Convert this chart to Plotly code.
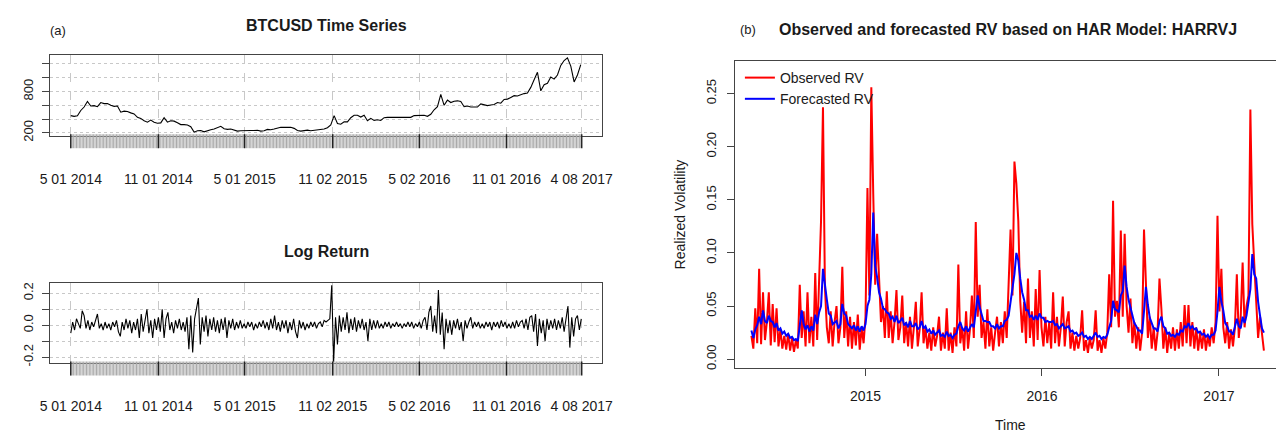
import pandas as pd
import plotly.graph_objects as go

W, H = 1287, 437

# ---------------- data ----------------
price_start = "2014-05-01"
btc_price = [
    450, 440, 447, 525, 575, 655, 590, 595, 580, 640,
    625, 625, 600, 585, 590, 500, 515, 510, 490, 475,
    425, 410, 375, 355, 385, 355, 340, 345, 420, 355,
    375, 370, 345, 320, 320,
    315, 290, 210, 230, 235, 215, 235, 245, 255, 275,
    295, 260, 250, 255, 240, 225, 230, 235, 240, 235,
    235, 237, 225, 230, 250, 245, 255, 270, 280, 280,
    285, 280, 265, 235, 225, 230, 240, 230, 235, 238,
    245, 255, 275, 315, 450, 335, 325, 360, 360, 420,
    455, 455, 430,
    455, 375, 410, 380, 390, 380, 420, 425, 425, 415,
    415, 415, 415, 420, 425, 450, 450, 450, 455, 440,
    470, 535, 580, 760, 600, 675, 640, 660, 665, 655,
    580, 590, 575, 575, 575, 620, 610, 595, 605, 612,
    640, 630, 685, 690, 715, 740, 735, 755, 770, 780,
    860, 970,
    1080, 810, 900, 920, 1010, 980, 1040, 1180, 1250, 1290,
    1170, 940, 1040, 1190,
]

ret_start = "2014-05-01"
log_return = [
    -0.05, 0.02, -0.03, 0.04, 0.01, -0.02, 0.09, 0.06, -0.02, 0.03,
    -0.03, 0.02, -0.01, 0.03, 0.07, -0.02, 0.01, -0.03, 0.02, -0.02,
    0.01, -0.03, 0.02, -0.01, 0.03, -0.04, -0.07, 0.02, -0.03, 0.04,
    -0.02, 0.03, -0.05, 0.02, -0.03, 0.04, -0.08, 0.07, -0.04, 0.03,
    0.10, -0.05, 0.03, -0.08, 0.04, -0.03, 0.05, -0.04, 0.10, -0.08,
    0.04, 0.08, -0.03, 0.02, -0.05, 0.03, -0.02, 0.04, -0.03, 0.02,
    -0.04, 0.05, -0.15, 0.06, -0.17, 0.04, 0.10, 0.17, -0.12, 0.05,
    -0.04, 0.06, -0.07, 0.04, -0.03, 0.05, -0.04, 0.03, -0.05, 0.04,
    -0.03, 0.05, -0.08, 0.03, -0.02, 0.04, -0.03, 0.02, -0.02, 0.03,
    -0.02, 0.01, -0.02, 0.02, -0.01, 0.02, -0.03, 0.01, -0.02, 0.02,
    -0.01, 0.03, -0.02, 0.02, -0.03, 0.04, -0.02, 0.06, -0.03, 0.02,
    -0.04, 0.03, -0.02, 0.03, -0.05, 0.02, -0.03, 0.04, -0.04, -0.08,
    0.03, -0.02, 0.02, -0.03, 0.01, -0.02, 0.02, -0.01, 0.02, -0.02,
    0.01, 0.02, -0.01, 0.03, 0.02, 0.03, 0.04, 0.25, -0.23, 0.05,
    -0.12, 0.06, -0.04, 0.05, -0.03, 0.08, -0.05, 0.04, -0.03, 0.05,
    -0.04, 0.03, -0.02, 0.04, -0.03, 0.02, -0.10, 0.04, -0.03, 0.03,
    -0.02, 0.03, -0.02, 0.01, -0.02, 0.02, -0.01, 0.02, -0.02, 0.01,
    -0.01, 0.02, -0.01, 0.01, -0.02, 0.01, -0.01, 0.02, -0.01, 0.02,
    -0.02, 0.01, -0.01, 0.02, -0.02, 0.03, 0.05, -0.03, 0.08, 0.12,
    -0.04, 0.06, -0.05, 0.22, -0.06, 0.08, -0.15, 0.04, -0.05, 0.03,
    -0.06, 0.03, -0.02, 0.04, -0.03, 0.02, -0.10, 0.03, -0.02, 0.02,
    0.05, -0.02, 0.02, -0.01, 0.02, -0.02, 0.01, -0.02, 0.02, -0.01,
    0.02, -0.03, 0.02, -0.01, 0.02, -0.02, 0.03, -0.01, 0.02, -0.02,
    0.01, -0.02, 0.02, -0.02, 0.03, -0.01, 0.02, 0.03, -0.02, 0.04,
    -0.03, 0.05, 0.06, -0.04, 0.07, -0.13, 0.04, -0.05, 0.03, -0.10,
    0.04, -0.03, 0.03, -0.02, 0.04, -0.03, 0.03, -0.02, 0.05, -0.04,
    0.03, 0.12, -0.14, 0.05, -0.07, 0.04, 0.06, -0.03, 0.04,
]

rv_start = "2014-05-10"
observed_rv = [
    0.022, 0.010, 0.048, 0.015, 0.085, 0.014, 0.063, 0.018, 0.035, 0.063,
    0.013, 0.052, 0.016, 0.048, 0.012, 0.028, 0.010, 0.022, 0.009, 0.024,
    0.008, 0.020, 0.007, 0.018, 0.010, 0.070, 0.020, 0.045, 0.012, 0.063,
    0.015, 0.040, 0.012, 0.081, 0.018, 0.080, 0.130, 0.237, 0.068, 0.030,
    0.015, 0.045, 0.012, 0.035, 0.050, 0.015, 0.030, 0.087, 0.020, 0.045,
    0.012, 0.040, 0.010, 0.035, 0.013, 0.042, 0.009, 0.030, 0.015, 0.040,
    0.161, 0.060, 0.256, 0.155, 0.070, 0.118, 0.079, 0.035, 0.050, 0.020,
    0.064, 0.020, 0.045, 0.015, 0.035, 0.065, 0.018, 0.030, 0.060, 0.015,
    0.035, 0.012, 0.040, 0.010, 0.030, 0.054, 0.012, 0.028, 0.063, 0.015,
    0.030, 0.010, 0.025, 0.008, 0.030, 0.012, 0.022, 0.040, 0.008, 0.025,
    0.010, 0.048, 0.008, 0.025, 0.006, 0.030, 0.012, 0.089, 0.015, 0.030,
    0.008, 0.045, 0.010, 0.028, 0.060, 0.020, 0.129, 0.040, 0.070, 0.020,
    0.035, 0.010, 0.047, 0.012, 0.030, 0.008, 0.025, 0.040, 0.012, 0.035,
    0.015, 0.045, 0.020, 0.063, 0.122, 0.060, 0.186, 0.165, 0.130, 0.055,
    0.025, 0.054, 0.015, 0.076, 0.020, 0.045, 0.012, 0.066, 0.018, 0.084,
    0.030, 0.012, 0.040, 0.015, 0.035, 0.010, 0.063, 0.015, 0.040, 0.012,
    0.030, 0.059, 0.012, 0.035, 0.045, 0.010, 0.025, 0.008, 0.022, 0.010,
    0.020, 0.046, 0.008, 0.018, 0.006, 0.020, 0.010, 0.018, 0.046, 0.008,
    0.018, 0.006, 0.020, 0.010, 0.025, 0.080, 0.030, 0.149, 0.040, 0.055,
    0.030, 0.121, 0.040, 0.118, 0.050, 0.025, 0.057, 0.015, 0.035, 0.010,
    0.030, 0.008, 0.025, 0.122, 0.075, 0.020, 0.040, 0.010, 0.030, 0.008,
    0.025, 0.076, 0.047, 0.010, 0.030, 0.006, 0.025, 0.010, 0.030, 0.008,
    0.028, 0.010, 0.035, 0.012, 0.051, 0.015, 0.051, 0.012, 0.035, 0.010,
    0.030, 0.008, 0.025, 0.010, 0.028, 0.008, 0.022, 0.012, 0.030, 0.015,
    0.035, 0.135, 0.045, 0.085, 0.030, 0.015, 0.035, 0.010, 0.028, 0.012,
    0.030, 0.080, 0.020, 0.040, 0.091, 0.030, 0.050, 0.060, 0.235, 0.127,
    0.090, 0.060, 0.020, 0.040, 0.025, 0.008,
]
forecast_rv = [
    0.027, 0.020, 0.028, 0.032, 0.040, 0.033, 0.046, 0.036, 0.034, 0.041,
    0.036, 0.035, 0.030, 0.034, 0.027, 0.029, 0.024, 0.026, 0.022, 0.024,
    0.020, 0.021, 0.018, 0.019, 0.017, 0.030, 0.046, 0.033, 0.028, 0.032,
    0.026, 0.031, 0.027, 0.042, 0.033, 0.044, 0.050, 0.085, 0.068, 0.056,
    0.043, 0.041, 0.033, 0.035, 0.036, 0.029, 0.033, 0.052, 0.043, 0.041,
    0.033, 0.031, 0.029, 0.032, 0.027, 0.031, 0.026, 0.031, 0.027, 0.033,
    0.050, 0.056, 0.080, 0.138, 0.088, 0.077, 0.063, 0.057, 0.048, 0.047,
    0.044, 0.043, 0.038, 0.040, 0.035, 0.041, 0.034, 0.036, 0.039, 0.032,
    0.034, 0.030, 0.036, 0.031, 0.031, 0.034, 0.028, 0.030, 0.036, 0.029,
    0.031, 0.026, 0.028, 0.024, 0.027, 0.023, 0.025, 0.027, 0.022, 0.023,
    0.021, 0.026, 0.022, 0.023, 0.020, 0.023, 0.024, 0.031, 0.035, 0.029,
    0.027, 0.031, 0.026, 0.029, 0.033, 0.030, 0.046, 0.060, 0.049, 0.041,
    0.036, 0.036, 0.035, 0.035, 0.031, 0.031, 0.029, 0.033, 0.029, 0.031,
    0.031, 0.036, 0.037, 0.041, 0.055, 0.066, 0.080, 0.100, 0.093, 0.076,
    0.063, 0.056, 0.046, 0.046, 0.040, 0.041, 0.037, 0.041, 0.037, 0.043,
    0.039, 0.039, 0.035, 0.036, 0.035, 0.035, 0.036, 0.032, 0.033, 0.029,
    0.031, 0.033, 0.029, 0.030, 0.031, 0.026, 0.027, 0.024, 0.025, 0.022,
    0.023, 0.025, 0.021, 0.022, 0.019, 0.021, 0.019, 0.022, 0.025, 0.021,
    0.022, 0.019, 0.021, 0.020, 0.023, 0.030, 0.036, 0.055, 0.047, 0.046,
    0.044, 0.060, 0.064, 0.088, 0.068, 0.056, 0.048, 0.041, 0.034, 0.031,
    0.027, 0.027, 0.024, 0.045, 0.068, 0.051, 0.039, 0.034, 0.029, 0.029,
    0.026, 0.036, 0.040, 0.031, 0.029, 0.024, 0.025, 0.022, 0.023, 0.021,
    0.024, 0.023, 0.027, 0.026, 0.031, 0.030, 0.034, 0.029, 0.031, 0.028,
    0.029, 0.025, 0.026, 0.023, 0.024, 0.021, 0.023, 0.020, 0.023, 0.023,
    0.027, 0.045, 0.068, 0.054, 0.046, 0.034, 0.031, 0.026, 0.026, 0.023,
    0.031, 0.038, 0.031, 0.029, 0.040, 0.034, 0.041, 0.055, 0.066, 0.099,
    0.080, 0.076, 0.054, 0.041, 0.029, 0.025,
]

date_ticks = ["2014-05-01", "2014-11-01", "2015-05-01", "2015-11-02",
              "2016-05-02", "2016-11-01", "2017-04-08"]
date_labels = ["5 01 2014", "11 01 2014", "5 01 2015", "11 02 2015",
               "5 02 2016", "11 01 2016", "4 08 2017"]
price_ticks = [200, 400, 600, 800, 1000, 1200]
price_labels = ["200", "", "", "800", "", ""]
ret_ticks = [-0.2, -0.1, 0.0, 0.1, 0.2]
ret_labels = ["-0.2", "", "0.0", "", "0.2"]
rv_ticks = [0.0, 0.05, 0.10, 0.15, 0.20, 0.25]
rv_labels = ["0.00", "0.05", "0.10", "0.15", "0.20", "0.25"]
year_ticks = ["2015-01-01", "2016-01-01", "2017-01-01"]
year_labels = ["2015", "2016", "2017"]

# ---------------- build ----------------
FONT = "Liberation Sans, Arial, sans-serif"
TXT = "#1a1a1a"

price_dates = pd.date_range(price_start, periods=len(btc_price), freq="7D")
ret_dates = pd.date_range(ret_start, periods=len(log_return), freq="4D")
rv_dates = pd.date_range(rv_start, periods=len(observed_rv), freq="4D")
# observation-date rug under the xts panels (minor ticks)
rug_dates = pd.date_range(date_ticks[0], date_ticks[-1], freq="3D")


def fx(px):
    return px / W


def fy(py):
    return 1 - py / H


t0 = pd.Timestamp(date_ticks[0])
t1 = pd.Timestamp(date_ticks[-1])
pad = (t1 - t0) * 0.04
left_range = [t0 - pad, t1 + pad]

fig = go.Figure()
fig.add_trace(go.Scatter(x=price_dates, y=btc_price, mode="lines",
                         line=dict(color="black", width=1.1),
                         xaxis="x", yaxis="y", showlegend=False, name="BTCUSD"))
fig.add_trace(go.Scatter(x=ret_dates, y=log_return, mode="lines",
                         line=dict(color="black", width=1.1),
                         xaxis="x2", yaxis="y2", showlegend=False, name="Log Return"))
for xa, ya in (("x", "y4"), ("x2", "y5")):
    fig.add_trace(go.Scatter(
        x=rug_dates, y=[0] * len(rug_dates), mode="markers",
        marker=dict(symbol="line-ns", size=10,
                    line=dict(color="#aaaaaa", width=1)),
        xaxis=xa, yaxis=ya, showlegend=False, hoverinfo="skip", cliponaxis=False))
    fig.add_trace(go.Scatter(
        x=date_ticks, y=[0] * len(date_ticks), mode="markers",
        marker=dict(symbol="line-ns", size=10,
                    line=dict(color="#222222", width=1.4)),
        xaxis=xa, yaxis=ya, showlegend=False, hoverinfo="skip", cliponaxis=False))
fig.add_trace(go.Scatter(x=rv_dates, y=observed_rv, mode="lines",
                         line=dict(color="#ff0000", width=2),
                         xaxis="x3", yaxis="y3", name="Observed RV"))
fig.add_trace(go.Scatter(x=rv_dates, y=forecast_rv, mode="lines",
                         line=dict(color="#0000ff", width=2),
                         xaxis="x3", yaxis="y3", name="Forecasted RV"))

left_x = dict(
    domain=[fx(41), fx(602)], range=left_range, type="date",
    tickmode="array", tickvals=date_ticks, ticktext=date_labels,
    ticks="outside", ticklen=10, tickwidth=1.2, tickcolor="#222",
    ticklabelstandoff=20,
    showgrid=True, gridcolor="#c8c8c8", griddash="dash", gridwidth=1,
    showline=True, linecolor="#444", linewidth=1, mirror=True,
    zeroline=False, tickfont=dict(size=14, color=TXT, family=FONT),
)
rug_y = dict(range=[-1, 1], visible=False, fixedrange=True)

fig.update_layout(
    width=W, height=H, margin=dict(l=0, r=0, t=0, b=0),
    paper_bgcolor="white", plot_bgcolor="white",
    font=dict(family=FONT, color=TXT),
    xaxis=dict(left_x, anchor="y"),
    yaxis=dict(domain=[fy(137), fy(55)], range=[157, 1329], anchor="x",
               tickmode="array", tickvals=price_ticks, ticktext=price_labels,
               tickangle=-90, ticks="outside", ticklen=7, tickcolor="#444",
               ticklabelstandoff=4,
               showgrid=True, gridcolor="#c8c8c8", griddash="dot",
               showline=True, linecolor="#444", linewidth=1, mirror=True,
               zeroline=False, tickfont=dict(size=13, color=TXT, family=FONT)),
    yaxis4=dict(rug_y, domain=[fy(147.5), fy(137.5)], anchor="x"),
    xaxis2=dict(left_x, anchor="y2"),
    yaxis2=dict(domain=[fy(368), fy(287)], range=[-0.237, 0.2615], anchor="x2",
                tickmode="array", tickvals=ret_ticks, ticktext=ret_labels,
                tickangle=-90, ticks="outside", ticklen=7, tickcolor="#444",
                ticklabelstandoff=4,
                showgrid=True, gridcolor="#c8c8c8", griddash="dot",
                showline=True, linecolor="#444", linewidth=1, mirror=True,
                zeroline=False, tickfont=dict(size=13, color=TXT, family=FONT)),
    yaxis5=dict(rug_y, domain=[fy(378.5), fy(368.5)], anchor="x2"),
    xaxis3=dict(domain=[fx(737), 1.0], range=["2014-04-06", "2017-04-29"],
                type="date", anchor="y3",
                tickmode="array", tickvals=year_ticks, ticktext=year_labels,
                ticks="outside", ticklen=7, tickcolor="#444",
                ticklabelstandoff=8,
                showgrid=False, showline=True, linecolor="#444", linewidth=1,
                mirror=True, zeroline=False,
                tickfont=dict(size=14, color=TXT, family=FONT)),
    yaxis3=dict(domain=[fy(373), fy(61)], range=[-0.0083, 0.2806], anchor="x3",
                tickmode="array", tickvals=rv_ticks, ticktext=rv_labels,
                tickangle=-90, ticks="outside", ticklen=7, tickcolor="#444",
                ticklabelstandoff=6,
                showgrid=False, showline=True, linecolor="#444", linewidth=1,
                mirror=False, zeroline=False,
                tickfont=dict(size=13, color=TXT, family=FONT)),
    legend=dict(x=fx(742), y=fy(62), xanchor="left", yanchor="top",
                bgcolor="rgba(0,0,0,0)", borderwidth=0,
                font=dict(size=14, color=TXT, family=FONT),
                tracegroupgap=0, itemwidth=30),
)

annotations = [
    dict(text="(a)", x=fx(49), y=fy(30), font=dict(size=13)),
    dict(text="<b>BTCUSD Time Series</b>", x=fx(322), y=fy(25), font=dict(size=16)),
    dict(text="<b>Log Return</b>", x=fx(322), y=fy(255), font=dict(size=16)),
    dict(text="(b)", x=fx(750), y=fy(29), font=dict(size=13)),
    dict(text="<b>Observed and forecasted RV based on HAR Model: HARRVJ</b>",
         x=fx(1015), y=fy(29), font=dict(size=16)),
    dict(text="Realized Volatility", x=fx(681), y=fy(217), textangle=-90,
         font=dict(size=14)),
    dict(text="Time", x=fx(1017), y=fy(431), font=dict(size=14)),
]
for a in annotations:
    a.update(xref="paper", yref="paper", showarrow=False,
             xanchor="center", yanchor="middle")
    a["font"].update(family=FONT, color=TXT)
fig.update_layout(annotations=annotations)

fig.write_html("out.html")
